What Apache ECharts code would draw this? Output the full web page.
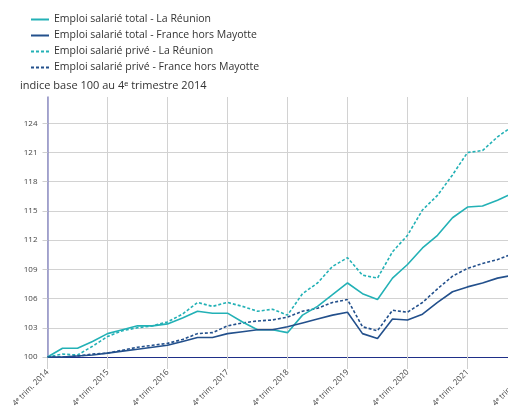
<!DOCTYPE html>
<html><head><meta charset="utf-8">
<script src="https://cdn.jsdelivr.net/npm/echarts@6/dist/echarts.min.js"></script>
<style>html,body{margin:0;padding:0;background:#fff}#c{width:508px;height:412px}</style>
</head><body><div id="c"></div>
<script>
const quarters = ["2014T4","2015T1","2015T2","2015T3","2015T4","2016T1","2016T2","2016T3","2016T4","2017T1","2017T2","2017T3","2017T4","2018T1","2018T2","2018T3","2018T4","2019T1","2019T2","2019T3","2019T4","2020T1","2020T2","2020T3","2020T4","2021T1","2021T2","2021T3","2021T4","2022T1","2022T2","2022T3","2022T4"];
const totalReunion = [100,100.9,100.9,101.6,102.4,102.8,103.2,103.2,103.4,104.0,104.7,104.5,104.5,103.6,102.8,102.8,102.5,104.3,105.2,106.4,107.6,106.5,105.9,108.1,109.5,111.2,112.5,114.3,115.4,115.5,116.1,116.8];
const totalFrance = [100,100.0,100.1,100.2,100.4,100.6,100.8,101.0,101.2,101.6,102.0,102.0,102.4,102.6,102.8,102.8,103.1,103.5,103.9,104.3,104.6,102.4,101.9,103.9,103.8,104.4,105.6,106.7,107.2,107.6,108.1,108.4];
const priveReunion = [100,100.3,100.2,101.1,102.1,102.7,103.0,103.2,103.6,104.4,105.6,105.2,105.6,105.2,104.7,104.9,104.3,106.5,107.6,109.3,110.2,108.4,108.1,110.8,112.5,115.1,116.6,118.7,121.0,121.2,122.6,123.7];
const priveFrance = [100,100.0,100.1,100.3,100.4,100.7,101.0,101.2,101.4,101.8,102.4,102.5,103.2,103.5,103.7,103.8,104.1,104.7,105.0,105.6,105.9,103.1,102.7,104.8,104.6,105.6,107.0,108.3,109.1,109.6,110.0,110.6];
const seriesNames = ["Emploi salarié total - La Réunion","Emploi salarié total - France hors Mayotte","Emploi salarié privé - La Réunion","Emploi salarié privé - France hors Mayotte"];
const unitLabel = "indice base 100 au 4ᵉ trimestre 2014";

const teal = "#23b1b6", navy = "#23508c";
const chart = echarts.init(document.getElementById('c'), null, {renderer:'canvas'});
const fnt = "'Open Sans', sans-serif";
function mk(name, data, color, dashed){
  return {name, type:'line', data, symbol:'none', showSymbol:false, smooth:false,
    lineStyle:{color, width:1.6, type: dashed ? [3,2] : 'solid'}, itemStyle:{color}, z: dashed?3:4};
}
chart.setOption({
  animation:false,
  textStyle:{fontFamily:fnt},
  legend:{show:true, orient:'vertical', left:25, top:9, itemWidth:18, itemHeight:12, itemGap:5,
    itemStyle:{opacity:0},
    textStyle:{fontSize:10.5, color:'#333', fontFamily:fnt},
    data:seriesNames},
  title:{text:unitLabel, left:15, top:75, textStyle:{fontSize:11, fontWeight:'normal', color:'#333', fontFamily:fnt}},
  grid:{left:47.5, right:-19.5, top:97, bottom:55, containLabel:false, outerBoundsMode:'none'},
  xAxis:{type:'category', data:quarters, boundaryGap:false,
    axisLine:{show:true, lineStyle:{color:'#1f2f88', width:1.2}},
    axisTick:{show:true, interval:3, length:12, lineStyle:{color:'#cfcfcf'}},
    splitLine:{show:true, interval:3, lineStyle:{color:'#d2d2d2', width:1}},
    axisLabel:{interval:3, rotate:45, fontSize:8, color:'#444', margin:14,
      formatter:v=>'4ᵉ trim. '+v.slice(0,4)}},
  yAxis:{type:'value', min:100, max:126.7, interval:3,
    axisLine:{show:true, lineStyle:{color:'#8f8fc6', width:1.5}},
    axisTick:{show:true, length:5, lineStyle:{color:'#cfcfcf'}},
    splitLine:{show:true, showMaxLine:false, lineStyle:{color:'#d2d2d2', width:1}},
    axisLabel:{fontSize:8, color:'#444', margin:10, showMaxLabel:false,
      formatter:v=>Number.isInteger(v)?String(v):''}},
  series:[mk(seriesNames[0], totalReunion, teal, false), mk(seriesNames[1], totalFrance, navy, false),
          mk(seriesNames[2], priveReunion, teal, true), mk(seriesNames[3], priveFrance, navy, true)]
});
</script></body></html>
